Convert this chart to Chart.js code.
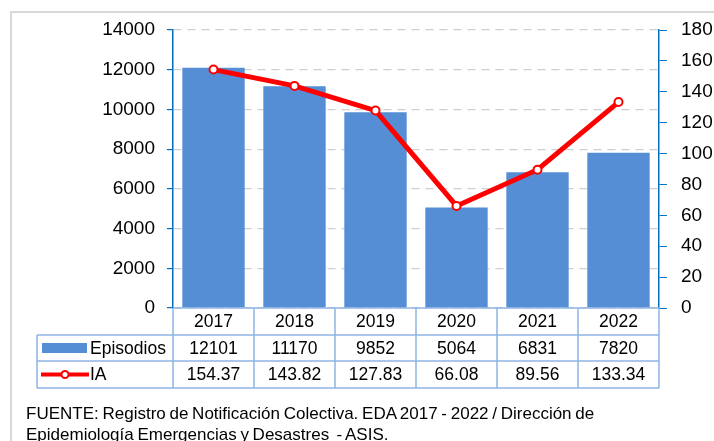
<!DOCTYPE html>
<html>
<head>
<meta charset="utf-8">
<script src="https://cdn.jsdelivr.net/npm/chart.js@4"></script>
<style>
  html, body { margin: 0; padding: 0; background: #fff; }
  #wrap { position: relative; width: 714px; height: 441px; overflow: hidden; }
  #frame { position: absolute; left: 10px; top: 11px; width: 800px; height: 500px; border: 2px solid #d9d9d9; box-sizing: border-box; }
  canvas { position: absolute; left: 0; top: 0; }
  #fuente { position: absolute; left: 26px; top: 403px; font: 17px "Liberation Sans", Arial, sans-serif; color: #000; line-height: 21px; white-space: nowrap; word-spacing: -1px; }
</style>
</head>
<body>
<div id="wrap">
  <div id="frame"></div>
  <canvas id="chart" width="714" height="441"></canvas>
  <div id="fuente">FUENTE: Registro de Notificación Colectiva. EDA 2017 - 2022 / Dirección de<br>Epidemiología Emergencias y Desastres &nbsp;- ASIS.</div>
</div>
<script>
const years = ['2017', '2018', '2019', '2020', '2021', '2022'];
const episodios = [12101, 11170, 9852, 5064, 6831, 7820];
const ia = [154.37, 143.82, 127.83, 66.08, 89.56, 133.34];
const iaLabels = ['154.37', '143.82', '127.83', '66.08', '89.56', '133.34'];

const barColor = '#558ed5';
const lineColor = '#ff0000';
const axisBlue = '#0070c0';
const tableLine = '#8eb4e3';
const font = '"Liberation Sans", Arial, sans-serif';

// data table under the plot, columns follow the x scale
const dataTable = {
    id: 'dataTable',
    afterDraw(chart) {
        const { ctx, chartArea } = chart;
        const x = chart.scales.x;
        const left = 37, top = chartArea.bottom;
        const rows = [top, top + 27, top + 53, top + 80];
        const step = (chartArea.right - chartArea.left) / years.length;

        ctx.save();
        ctx.strokeStyle = tableLine;
        ctx.lineWidth = 1.5;
        ctx.beginPath();
        ctx.moveTo(chartArea.left, rows[0]); ctx.lineTo(chartArea.right, rows[0]);
        for (let r = 1; r < rows.length; r++) {
            ctx.moveTo(left, rows[r]); ctx.lineTo(chartArea.right, rows[r]);
        }
        ctx.moveTo(left, rows[1]); ctx.lineTo(left, rows[3]);
        for (let i = 0; i <= years.length; i++) {
            const xx = chartArea.left + i * step;
            ctx.moveTo(xx, rows[0]); ctx.lineTo(xx, rows[3]);
        }
        ctx.stroke();

        ctx.fillStyle = '#000';
        ctx.font = '17.5px ' + font;
        ctx.textAlign = 'center';
        ctx.textBaseline = 'middle';
        years.forEach((y, i) => {
            const cx = x.getPixelForValue(i);
            ctx.fillText(y, cx, (rows[0] + rows[1]) / 2 + 1);
            ctx.fillText(String(episodios[i]), cx, (rows[1] + rows[2]) / 2 + 1);
            ctx.fillText(iaLabels[i], cx, (rows[2] + rows[3]) / 2 + 1);
        });

        // legend keys
        const r1 = (rows[1] + rows[2]) / 2, r2 = (rows[2] + rows[3]) / 2;
        ctx.fillStyle = barColor;
        ctx.fillRect(42, r1 - 5, 45, 10);
        ctx.strokeStyle = lineColor;
        ctx.lineWidth = 4;
        ctx.beginPath();
        ctx.moveTo(41, r2); ctx.lineTo(89, r2);
        ctx.stroke();
        ctx.beginPath();
        ctx.arc(65, r2, 3.5, 0, Math.PI * 2);
        ctx.fillStyle = '#fff';
        ctx.fill();
        ctx.lineWidth = 2;
        ctx.stroke();

        ctx.fillStyle = '#000';
        ctx.textAlign = 'left';
        ctx.fillText('Episodios', 90, r1 + 1);
        ctx.fillText('IA', 90, r2 + 1);
        ctx.restore();
    }
};

new Chart(document.getElementById('chart'), {
    data: {
        labels: years,
        datasets: [
            {
                type: 'line',
                label: 'IA',
                data: ia,
                yAxisID: 'y1',
                borderColor: lineColor,
                borderWidth: 5,
                pointRadius: 4,
                pointBorderWidth: 2,
                pointBackgroundColor: '#fff',
                pointBorderColor: lineColor,
                order: 0
            },
            {
                type: 'bar',
                label: 'Episodios',
                data: episodios,
                yAxisID: 'y',
                backgroundColor: barColor,
                categoryPercentage: 1,
                barPercentage: 0.77,
                order: 1
            }
        ]
    },
    options: {
        responsive: false,
        animation: false,
        layout: { padding: { top: 30, bottom: 125, left: 0, right: 0 } },
        plugins: { legend: { display: false }, tooltip: { enabled: false } },
        scales: {
            x: {
                ticks: { display: false },
                grid: { display: false },
                border: { display: false }
            },
            y: {
                position: 'left',
                min: 0, max: 14000,
                ticks: { stepSize: 2000, color: '#000', font: { family: font, size: 19 }, padding: 12, callback: v => String(v) },
                grid: { color: '#cfcfcf', tickColor: axisBlue, tickLength: 6, lineWidth: 1.2 },
                border: { color: axisBlue, width: 1.5, dash: [8, 6] },
                afterFit(scale) { scale.width = 173; }
            },
            y1: {
                position: 'right',
                min: 0, max: 180,
                ticks: { stepSize: 20, color: '#000', font: { family: font, size: 19 }, padding: 14, callback: v => String(v) },
                grid: { drawOnChartArea: false, tickColor: axisBlue, tickLength: 8 },
                border: { color: axisBlue, width: 1.5 },
                afterFit(scale) { scale.width = 55; }
            }
        }
    },
    plugins: [dataTable]
});
</script>
</body>
</html>
